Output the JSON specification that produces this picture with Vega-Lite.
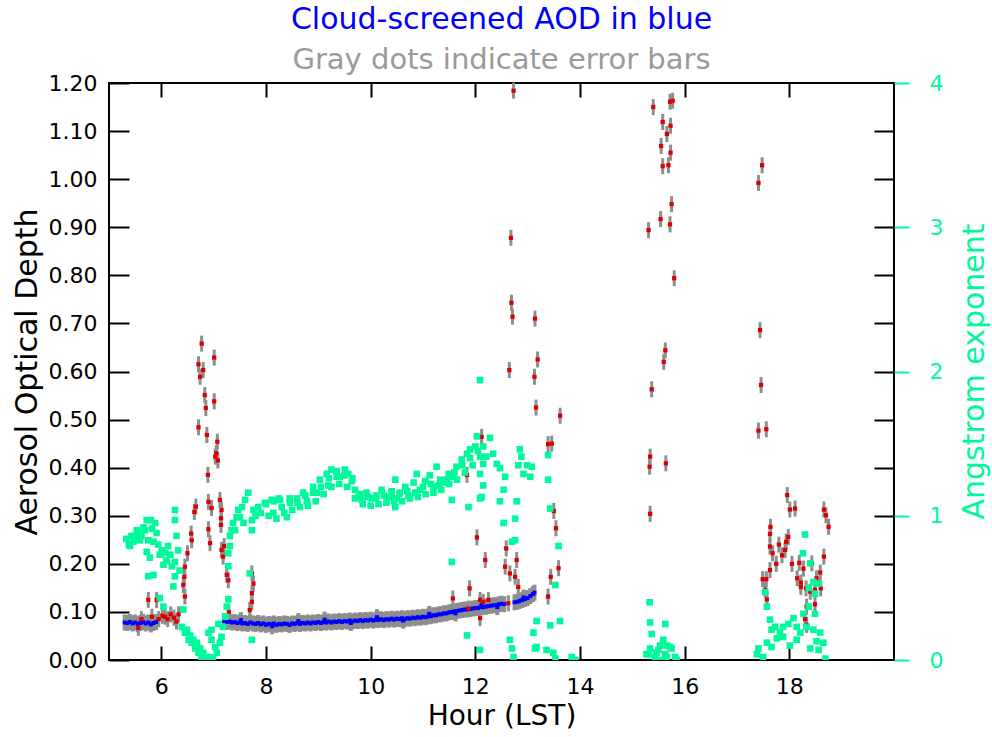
{
"$schema": "https://vega.github.io/schema/vega-lite/v6.json",
"width": 785,
"height": 577,
"autosize": "none",
"padding": {"left": 109, "top": 83, "right": 98, "bottom": 77},
"background": "white",
"config": {"view": {"stroke": "black", "strokeWidth": 2}, "font": "DejaVu Sans"},
"title": {"text": "Cloud-screened AOD in blue", "subtitle": "Gray dots indicate error bars", "color": "#0000ff", "subtitleColor": "#9a9a9a", "fontSize": 30, "subtitleFontSize": 29, "fontWeight": "normal", "font": "DejaVu Sans", "subtitleFont": "DejaVu Sans", "anchor": "middle", "offset": -3, "subtitlePadding": 11},
"datasets": {
"blue": [
{"t":5.30,"a":0.078},{"t":5.35,"a":0.077},{"t":5.40,"a":0.079},{"t":5.45,"a":0.076},{"t":5.50,"a":0.078},{"t":5.55,"a":0.075},{"t":5.60,"a":0.077},{"t":5.65,"a":0.079},{"t":5.70,"a":0.076},{"t":5.75,"a":0.078},{"t":5.80,"a":0.074},{"t":5.85,"a":0.077},{"t":5.90,"a":0.079},
{"t":7.20,"a":0.081},{"t":7.25,"a":0.079},{"t":7.30,"a":0.080},{"t":7.35,"a":0.078},{"t":7.40,"a":0.079},{"t":7.45,"a":0.077},{"t":7.50,"a":0.078},{"t":7.55,"a":0.076},{"t":7.60,"a":0.077},{"t":7.65,"a":0.075},{"t":7.70,"a":0.078},{"t":7.75,"a":0.076},{"t":7.80,"a":0.075},{"t":7.85,"a":0.077},{"t":7.90,"a":0.074},{"t":7.95,"a":0.076},
{"t":8.00,"a":0.073},{"t":8.05,"a":0.075},{"t":8.10,"a":0.074},{"t":8.15,"a":0.076},{"t":8.20,"a":0.073},{"t":8.25,"a":0.075},{"t":8.30,"a":0.074},{"t":8.35,"a":0.076},{"t":8.40,"a":0.075},{"t":8.45,"a":0.073},{"t":8.50,"a":0.076},{"t":8.55,"a":0.075},{"t":8.60,"a":0.077},{"t":8.65,"a":0.075},{"t":8.70,"a":0.077},{"t":8.75,"a":0.076},{"t":8.80,"a":0.078},{"t":8.85,"a":0.076},{"t":8.90,"a":0.078},{"t":8.95,"a":0.077},
{"t":9.00,"a":0.079},{"t":9.05,"a":0.077},{"t":9.10,"a":0.079},{"t":9.15,"a":0.078},{"t":9.20,"a":0.080},{"t":9.25,"a":0.078},{"t":9.30,"a":0.080},{"t":9.35,"a":0.079},{"t":9.40,"a":0.081},{"t":9.45,"a":0.079},{"t":9.50,"a":0.081},{"t":9.55,"a":0.080},{"t":9.60,"a":0.082},{"t":9.65,"a":0.080},{"t":9.70,"a":0.082},{"t":9.75,"a":0.081},{"t":9.80,"a":0.083},{"t":9.85,"a":0.081},{"t":9.90,"a":0.083},{"t":9.95,"a":0.082},
{"t":10.00,"a":0.084},{"t":10.05,"a":0.082},{"t":10.10,"a":0.084},{"t":10.15,"a":0.083},{"t":10.20,"a":0.085},{"t":10.25,"a":0.083},{"t":10.30,"a":0.085},{"t":10.35,"a":0.084},{"t":10.40,"a":0.086},{"t":10.45,"a":0.084},{"t":10.50,"a":0.086},{"t":10.55,"a":0.085},{"t":10.60,"a":0.087},{"t":10.65,"a":0.085},{"t":10.70,"a":0.087},{"t":10.75,"a":0.086},{"t":10.80,"a":0.088},{"t":10.85,"a":0.087},{"t":10.90,"a":0.089},{"t":10.95,"a":0.088},
{"t":11.00,"a":0.090},{"t":11.05,"a":0.089},{"t":11.10,"a":0.091},{"t":11.15,"a":0.091},{"t":11.20,"a":0.093},{"t":11.25,"a":0.093},{"t":11.30,"a":0.095},{"t":11.35,"a":0.095},{"t":11.40,"a":0.097},{"t":11.45,"a":0.097},{"t":11.50,"a":0.099},{"t":11.55,"a":0.100},{"t":11.60,"a":0.101},{"t":11.65,"a":0.102},{"t":11.70,"a":0.103},{"t":11.75,"a":0.104},{"t":11.80,"a":0.105},{"t":11.85,"a":0.105},{"t":11.90,"a":0.106},{"t":11.95,"a":0.107},
{"t":12.00,"a":0.108},{"t":12.05,"a":0.108},{"t":12.10,"a":0.110},{"t":12.15,"a":0.110},{"t":12.20,"a":0.111},{"t":12.25,"a":0.112},{"t":12.30,"a":0.113},{"t":12.35,"a":0.114},{"t":12.40,"a":0.114},{"t":12.45,"a":0.116},{"t":12.50,"a":0.117},{"t":12.55,"a":0.116},
{"t":12.75,"a":0.120},{"t":12.80,"a":0.121},{"t":12.85,"a":0.123},{"t":12.90,"a":0.125},{"t":12.95,"a":0.127},{"t":13.00,"a":0.129},{"t":13.05,"a":0.133},{"t":13.10,"a":0.137},{"t":13.13,"a":0.140},
{"t":7.52,"a":0.083},{"t":8.12,"a":0.070},{"t":8.62,"a":0.081},{"t":9.12,"a":0.084},{"t":9.62,"a":0.077},{"t":10.12,"a":0.089},{"t":10.62,"a":0.082},{"t":11.12,"a":0.096},{"t":11.62,"a":0.097},{"t":12.12,"a":0.115},{"t":12.42,"a":0.110},{"t":12.92,"a":0.130}
],
"red": [
{"t":5.56,"a":0.067},{"t":5.62,"a":0.085},{"t":5.75,"a":0.125},{"t":5.82,"a":0.090},{"t":5.91,"a":0.125},{"t":5.95,"a":0.085},{"t":6.02,"a":0.092},{"t":6.07,"a":0.090},{"t":6.12,"a":0.085},{"t":6.18,"a":0.095},{"t":6.24,"a":0.088},{"t":6.29,"a":0.080},{"t":6.33,"a":0.095},
{"t":6.42,"a":0.156},{"t":6.44,"a":0.173},{"t":6.45,"a":0.132},{"t":6.45,"a":0.194},{"t":6.50,"a":0.222},{"t":6.57,"a":0.263},{"t":6.58,"a":0.249},{"t":6.63,"a":0.308},{"t":6.66,"a":0.319},
{"t":6.71,"a":0.484},{"t":6.71,"a":0.615},{"t":6.74,"a":0.589},{"t":6.77,"a":0.658},{"t":6.80,"a":0.603},{"t":6.83,"a":0.551},{"t":6.85,"a":0.524},{"t":6.87,"a":0.468},{"t":6.89,"a":0.385},{"t":6.90,"a":0.329},{"t":6.90,"a":0.272},{"t":6.93,"a":0.243},{"t":6.96,"a":0.316},
{"t":7.01,"a":0.629},{"t":7.01,"a":0.538},{"t":7.03,"a":0.423},{"t":7.05,"a":0.430},{"t":7.07,"a":0.454},{"t":7.08,"a":0.415},{"t":7.12,"a":0.333},{"t":7.14,"a":0.295},{"t":7.14,"a":0.281},{"t":7.15,"a":0.312},{"t":7.15,"a":0.229},{"t":7.18,"a":0.215},{"t":7.20,"a":0.237},{"t":7.25,"a":0.177},{"t":7.28,"a":0.166},{"t":7.29,"a":0.100},
{"t":7.69,"a":0.104},{"t":7.73,"a":0.121},{"t":7.73,"a":0.139},{"t":7.73,"a":0.180},{"t":7.76,"a":0.159},
{"t":11.57,"a":0.128},{"t":11.84,"a":0.385},{"t":11.87,"a":0.107},{"t":11.89,"a":0.149},{"t":12.03,"a":0.255},{"t":12.09,"a":0.087},{"t":12.09,"a":0.125},{"t":12.12,"a":0.464},{"t":12.15,"a":0.121},{"t":12.19,"a":0.208},{"t":12.25,"a":0.125},
{"t":12.57,"a":0.194},{"t":12.59,"a":0.232},{"t":12.63,"a":0.118},{"t":12.65,"a":0.603},{"t":12.66,"a":0.180},{"t":12.68,"a":0.878},{"t":12.69,"a":0.743},{"t":12.71,"a":0.714},{"t":12.73,"a":1.184},{"t":12.76,"a":0.173},{"t":12.79,"a":0.208},{"t":12.82,"a":0.152},
{"t":13.13,"a":0.589},{"t":13.14,"a":0.710},{"t":13.16,"a":0.525},{"t":13.19,"a":0.625},{"t":13.39,"a":0.132},{"t":13.39,"a":0.449},{"t":13.44,"a":0.173},{"t":13.46,"a":0.450},{"t":13.50,"a":0.310},{"t":13.54,"a":0.274},{"t":13.59,"a":0.191},{"t":13.62,"a":0.508},
{"t":15.31,"a":0.894},{"t":15.33,"a":0.402},{"t":15.34,"a":0.423},{"t":15.34,"a":0.304},{"t":15.37,"a":0.563},{"t":15.40,"a":1.150},{"t":15.54,"a":0.917},{"t":15.55,"a":1.069},{"t":15.58,"a":1.119},{"t":15.58,"a":1.027},{"t":15.60,"a":0.620},{"t":15.63,"a":0.644},{"t":15.64,"a":0.409},{"t":15.66,"a":1.094},{"t":15.69,"a":1.029},{"t":15.72,"a":1.161},{"t":15.72,"a":0.906},{"t":15.73,"a":1.111},{"t":15.73,"a":1.055},{"t":15.75,"a":0.948},{"t":15.77,"a":1.163},{"t":15.80,"a":0.794},
{"t":17.41,"a":0.992},{"t":17.41,"a":0.477},{"t":17.44,"a":0.686},{"t":17.46,"a":0.572},{"t":17.48,"a":1.029},{"t":17.49,"a":0.168},{"t":17.54,"a":0.146},{"t":17.56,"a":0.480},{"t":17.56,"a":0.168},{"t":17.57,"a":0.126},{"t":17.63,"a":0.262},{"t":17.63,"a":0.236},{"t":17.63,"a":0.187},{"t":17.64,"a":0.277},{"t":17.68,"a":0.222},{"t":17.75,"a":0.200},{"t":17.80,"a":0.240},{"t":17.86,"a":0.218},{"t":17.92,"a":0.229},{"t":17.94,"a":0.246},{"t":17.96,"a":0.343},{"t":17.98,"a":0.256},
{"t":18.01,"a":0.313},{"t":18.05,"a":0.200},{"t":18.11,"a":0.315},{"t":18.15,"a":0.170},{"t":18.19,"a":0.202},{"t":18.22,"a":0.161},{"t":18.22,"a":0.152},{"t":18.27,"a":0.190},{"t":18.30,"a":0.085},{"t":18.32,"a":0.149},{"t":18.33,"a":0.111},{"t":18.33,"a":0.073},{"t":18.40,"a":0.142},{"t":18.43,"a":0.201},{"t":18.49,"a":0.146},{"t":18.49,"a":0.116},{"t":18.52,"a":0.170},{"t":18.59,"a":0.182},{"t":18.60,"a":0.149},{"t":18.66,"a":0.313},{"t":18.66,"a":0.215},{"t":18.70,"a":0.301},{"t":18.75,"a":0.277}
],
"ang": [
{"t":5.33,"x":0.84},{"t":5.38,"x":0.80},{"t":5.40,"x":0.79},{"t":5.43,"x":0.86},{"t":5.47,"x":0.82},{"t":5.50,"x":0.84},{"t":5.53,"x":0.90},{"t":5.56,"x":0.88},{"t":5.59,"x":0.83},{"t":5.62,"x":0.86},{"t":5.66,"x":0.92},{"t":5.69,"x":0.90},{"t":5.72,"x":0.97},{"t":5.72,"x":0.75},{"t":5.75,"x":0.83},{"t":5.75,"x":0.58},{"t":5.78,"x":0.71},{"t":5.80,"x":0.97},{"t":5.82,"x":0.91},{"t":5.85,"x":0.82},{"t":5.85,"x":0.59},{"t":5.88,"x":0.95},{"t":5.91,"x":0.88},{"t":5.94,"x":0.80},{"t":5.97,"x":0.73},{"t":5.97,"x":0.43},{"t":6.01,"x":0.76},{"t":6.04,"x":0.66},{"t":6.04,"x":0.37},{"t":6.07,"x":0.74},{"t":6.10,"x":0.69},{"t":6.13,"x":0.79},{"t":6.17,"x":0.73},{"t":6.20,"x":0.65},{"t":6.23,"x":0.51},{"t":6.26,"x":0.68},{"t":6.26,"x":0.58},{"t":6.26,"x":0.97},{"t":6.26,"x":1.04},{"t":6.29,"x":0.86},{"t":6.32,"x":0.76},{"t":6.35,"x":0.62},
{"t":6.39,"x":0.23},{"t":6.42,"x":0.35},{"t":6.45,"x":0.19},{"t":6.49,"x":0.21},{"t":6.52,"x":0.14},{"t":6.55,"x":0.17},{"t":6.58,"x":0.12},{"t":6.61,"x":0.14},{"t":6.65,"x":0.08},{"t":6.68,"x":0.12},{"t":6.71,"x":0.05},{"t":6.74,"x":0.08},{"t":6.77,"x":0.02},{"t":6.80,"x":0.05},{"t":6.83,"x":0.01},{"t":6.87,"x":0.01},{"t":6.90,"x":0.19},{"t":6.93,"x":0.02},{"t":6.96,"x":0.14},{"t":6.96,"x":0.21},{"t":6.99,"x":0.01},{"t":7.03,"x":0.09},{"t":7.06,"x":0.05},{"t":7.09,"x":0.25},{"t":7.12,"x":0.12},{"t":7.15,"x":0.16},{"t":7.18,"x":0.23},{"t":7.22,"x":0.30},{"t":7.25,"x":0.37},{"t":7.28,"x":0.42},{"t":7.28,"x":0.65},{"t":7.28,"x":0.74},{"t":7.31,"x":0.79},{"t":7.31,"x":0.86},{"t":7.34,"x":0.90},{"t":7.37,"x":0.95},{"t":7.41,"x":0.90},{"t":7.44,"x":0.99},{"t":7.47,"x":1.04},{"t":7.50,"x":0.99},{"t":7.54,"x":1.06},{"t":7.57,"x":0.95},{"t":7.60,"x":1.11},{"t":7.66,"x":1.16},{"t":7.69,"x":0.60},{"t":7.73,"x":0.14},{"t":7.73,"x":0.90},{"t":7.73,"x":0.97},{"t":7.76,"x":1.04},{"t":7.80,"x":1.00},{"t":7.85,"x":1.06},{"t":7.90,"x":1.02},{"t":7.98,"x":1.09},
{"t":8.00,"x":1.08},{"t":8.05,"x":1.00},{"t":8.11,"x":1.11},{"t":8.14,"x":1.02},{"t":8.15,"x":1.10},{"t":8.20,"x":0.98},{"t":8.24,"x":1.12},{"t":8.27,"x":1.11},{"t":8.30,"x":1.06},{"t":8.35,"x":1.02},{"t":8.40,"x":0.99},{"t":8.45,"x":1.12},{"t":8.46,"x":1.09},{"t":8.50,"x":1.04},{"t":8.59,"x":1.12},{"t":8.60,"x":1.09},{"t":8.65,"x":1.06},{"t":8.71,"x":1.16},{"t":8.75,"x":1.14},{"t":8.78,"x":1.10},{"t":8.80,"x":1.07},{"t":8.90,"x":1.20},{"t":8.90,"x":1.16},{"t":8.95,"x":1.10},{"t":8.97,"x":1.16},
{"t":9.03,"x":1.25},{"t":9.05,"x":1.20},{"t":9.10,"x":1.15},{"t":9.16,"x":1.29},{"t":9.19,"x":1.21},{"t":9.20,"x":1.26},{"t":9.25,"x":1.32},{"t":9.25,"x":1.20},{"t":9.35,"x":1.31},{"t":9.35,"x":1.27},{"t":9.40,"x":1.22},{"t":9.41,"x":1.27},{"t":9.50,"x":1.28},{"t":9.51,"x":1.32},{"t":9.55,"x":1.20},{"t":9.57,"x":1.29},{"t":9.64,"x":1.24},{"t":9.65,"x":1.26},{"t":9.70,"x":1.18},{"t":9.70,"x":1.12},{"t":9.76,"x":1.13},{"t":9.80,"x":1.15},{"t":9.83,"x":1.11},{"t":9.85,"x":1.08},{"t":9.92,"x":1.16},{"t":9.95,"x":1.13},
{"t":10.00,"x":1.07},{"t":10.02,"x":1.12},{"t":10.10,"x":1.12},{"t":10.11,"x":1.14},{"t":10.15,"x":1.08},{"t":10.21,"x":1.18},{"t":10.25,"x":1.14},{"t":10.30,"x":1.09},{"t":10.31,"x":1.13},{"t":10.40,"x":1.13},{"t":10.40,"x":1.17},{"t":10.45,"x":1.10},{"t":10.47,"x":1.25},{"t":10.47,"x":1.06},{"t":10.50,"x":1.12},{"t":10.55,"x":1.15},{"t":10.56,"x":1.16},{"t":10.60,"x":1.10},{"t":10.66,"x":1.20},{"t":10.70,"x":1.17},{"t":10.72,"x":1.14},{"t":10.75,"x":1.12},{"t":10.82,"x":1.23},{"t":10.85,"x":1.16},{"t":10.88,"x":1.29},{"t":10.90,"x":1.13},{"t":10.94,"x":1.18},
{"t":11.00,"x":1.20},{"t":11.04,"x":1.24},{"t":11.05,"x":1.15},{"t":11.13,"x":1.28},{"t":11.15,"x":1.22},{"t":11.20,"x":1.20},{"t":11.20,"x":1.16},{"t":11.26,"x":1.34},{"t":11.30,"x":1.21},{"t":11.33,"x":1.25},{"t":11.35,"x":1.18},{"t":11.42,"x":1.23},{"t":11.45,"x":1.25},{"t":11.49,"x":1.29},{"t":11.50,"x":1.22},{"t":11.55,"x":1.11},{"t":11.55,"x":0.68},{"t":11.58,"x":1.27},{"t":11.60,"x":1.30},{"t":11.64,"x":1.34},{"t":11.65,"x":1.25},{"t":11.74,"x":1.39},{"t":11.75,"x":1.35},{"t":11.80,"x":1.30},{"t":11.84,"x":1.43},{"t":11.84,"x":0.17},{"t":11.87,"x":1.06},{"t":11.90,"x":1.46},{"t":11.90,"x":1.40},{"t":11.95,"x":1.35},
{"t":12.00,"x":1.48},{"t":12.03,"x":1.55},{"t":12.05,"x":1.45},{"t":12.09,"x":1.41},{"t":12.09,"x":1.94},{"t":12.09,"x":1.29},{"t":12.09,"x":1.12},{"t":12.09,"x":0.07},{"t":12.12,"x":1.13},{"t":12.15,"x":1.36},{"t":12.15,"x":1.48},{"t":12.15,"x":1.21},{"t":12.21,"x":1.41},{"t":12.28,"x":1.54},{"t":12.34,"x":1.43},{"t":12.41,"x":1.36},{"t":12.47,"x":1.33},{"t":12.47,"x":1.10},{"t":12.54,"x":1.18},{"t":12.54,"x":0.95},{"t":12.57,"x":1.27},{"t":12.66,"x":0.14},{"t":12.70,"x":0.82},{"t":12.70,"x":0.08},{"t":12.73,"x":0.02},{"t":12.76,"x":0.83},{"t":12.76,"x":0.98},{"t":12.79,"x":1.10},{"t":12.82,"x":1.35},{"t":12.85,"x":1.46},{"t":12.88,"x":1.41},{"t":12.92,"x":1.29},{"t":12.99,"x":1.35},{"t":13.05,"x":1.27},{"t":13.08,"x":1.34},
{"t":13.11,"x":0.19},{"t":13.14,"x":0.08},{"t":13.17,"x":0.27},{"t":13.17,"x":0.09},{"t":13.36,"x":0.07},{"t":13.39,"x":1.42},{"t":13.39,"x":1.25},{"t":13.43,"x":1.05},{"t":13.43,"x":0.24},{"t":13.49,"x":0.05},{"t":13.53,"x":0.52},{"t":13.53,"x":0.01},{"t":13.59,"x":0.79},{"t":13.62,"x":0.27},{"t":13.84,"x":0.02},{"t":13.91,"x":0.00},
{"t":15.27,"x":0.04},{"t":15.31,"x":0.04},{"t":15.33,"x":0.40},{"t":15.34,"x":0.26},{"t":15.34,"x":0.08},{"t":15.37,"x":0.18},{"t":15.43,"x":0.02},{"t":15.46,"x":0.05},{"t":15.50,"x":0.07},{"t":15.53,"x":0.10},{"t":15.56,"x":0.00},{"t":15.59,"x":0.14},{"t":15.63,"x":0.25},{"t":15.63,"x":0.04},{"t":15.66,"x":0.10},{"t":15.66,"x":0.02},{"t":15.72,"x":0.09},{"t":15.75,"x":0.08},{"t":15.82,"x":0.02},{"t":15.85,"x":0.00},
{"t":17.38,"x":0.04},{"t":17.41,"x":0.08},{"t":17.50,"x":0.02},{"t":17.54,"x":0.47},{"t":17.57,"x":0.37},{"t":17.57,"x":0.12},{"t":17.63,"x":0.28},{"t":17.66,"x":0.21},{"t":17.66,"x":0.09},{"t":17.73,"x":0.23},{"t":17.76,"x":0.15},{"t":17.82,"x":0.19},{"t":17.88,"x":0.23},{"t":17.88,"x":0.16},{"t":17.98,"x":0.25},{"t":18.01,"x":0.10},{"t":18.08,"x":0.29},{"t":18.14,"x":0.23},{"t":18.14,"x":0.14},{"t":18.21,"x":0.19},{"t":18.26,"x":0.74},{"t":18.27,"x":0.32},{"t":18.30,"x":0.87},{"t":18.33,"x":0.23},{"t":18.37,"x":0.50},{"t":18.37,"x":0.37},{"t":18.40,"x":0.67},{"t":18.40,"x":0.08},{"t":18.46,"x":0.54},{"t":18.46,"x":0.21},{"t":18.49,"x":0.46},{"t":18.49,"x":0.32},{"t":18.52,"x":0.13},{"t":18.56,"x":0.53},{"t":18.56,"x":0.07},{"t":18.59,"x":0.19},{"t":18.65,"x":0.12},{"t":18.69,"x":0.01}
]
},
"resolve": {"scale": {"y": "independent"}, "axis": {"x": "independent", "y": "independent"}},
"layer": [
{
"data": {"name": "blue"},
"mark": {"type": "tick", "orient": "vertical", "color": "#8e8e8e", "size": 16, "thickness": 4, "opacity": 1},
"encoding": {
"x": {"field": "t", "type": "quantitative", "scale": {"domain": [5, 20], "nice": false, "zero": false}, "axis": null},
"y": {"field": "a", "type": "quantitative", "scale": {"domain": [0, 1.2], "nice": false, "zero": false}, "axis": null}
}
},
{
"data": {"name": "red"},
"mark": {"type": "tick", "orient": "vertical", "color": "#8e8e8e", "size": 16, "thickness": 3, "opacity": 1},
"encoding": {
"x": {"field": "t", "type": "quantitative", "scale": {"domain": [5, 20], "nice": false, "zero": false}, "axis": null},
"y": {"field": "a", "type": "quantitative", "scale": {"domain": [0, 1.2], "nice": false, "zero": false}, "axis": null}
}
},
{
"data": {"name": "blue"},
"mark": {"type": "square", "color": "#0000ff", "opacity": 1, "size": 16},
"encoding": {
"x": {"field": "t", "type": "quantitative", "scale": {"domain": [5, 20], "nice": false, "zero": false},
 "axis": {"orient": "bottom", "values": [6, 8, 10, 12, 14, 16, 18], "domain": false, "grid": false, "tickSize": -14, "tickColor": "black", "tickWidth": 2, "labelPadding": 30, "labelFontSize": 22, "labelColor": "black", "labelFont": "DejaVu Sans", "title": "Hour (LST)", "titleFontSize": 28, "titleFontWeight": "normal", "titleColor": "black", "titleFont": "DejaVu Sans", "titlePadding": 5}},
"y": {"field": "a", "type": "quantitative", "scale": {"domain": [0, 1.2], "nice": false, "zero": false},
 "axis": {"orient": "left", "values": [0, 0.1, 0.2, 0.3, 0.4, 0.5, 0.6, 0.7, 0.8, 0.9, 1.0, 1.1, 1.2], "format": ".2f", "domain": false, "grid": false, "tickSize": -20, "tickColor": "black", "tickWidth": 2, "labelPadding": 32, "labelFontSize": 22, "labelColor": "black", "labelFont": "DejaVu Sans", "title": "Aerosol Optical Depth", "titleFontSize": 30, "titleFontWeight": "normal", "titleColor": "black", "titleFont": "DejaVu Sans", "titlePadding": 6}}
}
},
{
"data": {"name": "red"},
"mark": {"type": "square", "color": "#dd0000", "opacity": 1, "size": 18},
"encoding": {
"x": {"field": "t", "type": "quantitative", "scale": {"domain": [5, 20], "nice": false, "zero": false}, "axis": null},
"y": {"field": "a", "type": "quantitative", "scale": {"domain": [0, 1.2], "nice": false, "zero": false},
 "axis": {"orient": "right", "values": [0.1, 0.2, 0.3, 0.4, 0.5, 0.6, 0.7, 0.8, 0.9, 1.0, 1.1], "domain": false, "grid": false, "labels": false, "tickSize": -20, "tickColor": "black", "tickWidth": 2, "title": null}}
}
},
{
"data": {"name": "ang"},
"mark": {"type": "square", "color": "#00f99a", "opacity": 1, "size": 44, "clip": true},
"encoding": {
"x": {"field": "t", "type": "quantitative", "scale": {"domain": [5, 20], "nice": false, "zero": false},
 "axis": {"orient": "top", "values": [6, 8, 10, 12, 14, 16, 18], "domain": false, "grid": false, "labels": false, "tickSize": -14, "tickColor": "black", "tickWidth": 2, "title": null}},
"y": {"field": "x", "type": "quantitative", "scale": {"domain": [0, 4], "nice": false, "zero": false},
 "axis": {"orient": "right", "values": [0, 1, 2, 3, 4], "domain": false, "grid": false, "tickSize": 15, "tickColor": "#00f99a", "tickWidth": 2, "labelPadding": 20, "labelFontSize": 22, "labelColor": "#00f99a", "labelFont": "DejaVu Sans", "title": "Angstrom exponent", "titleAngle": 270, "titleAlign": "center", "titleBaseline": "middle", "titleX": 80, "titleY": 288, "titleFontSize": 30, "titleFontWeight": "normal", "titleColor": "#00f99a", "titleFont": "DejaVu Sans"}}
}
}
]
}
